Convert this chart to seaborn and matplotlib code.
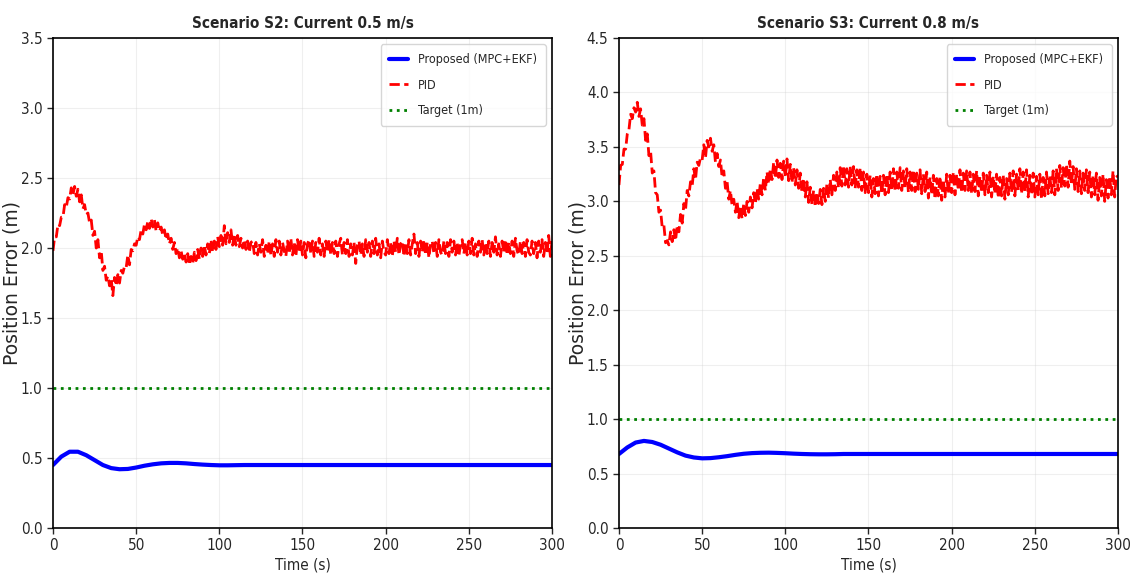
import numpy as np
import matplotlib
matplotlib.use("Agg")
import matplotlib.pyplot as plt
import seaborn as sns

# Time axis (s)
time_fine = np.arange(0, 301, 1)
time_coarse = np.arange(0, 301, 5)

# Scenario S2: current 0.5 m/s
s2_proposed = [0.45, 0.51, 0.545, 0.545, 0.52, 0.485, 0.45, 0.428, 0.42, 0.422,
               0.432, 0.445, 0.455, 0.462, 0.465, 0.465, 0.462, 0.457, 0.453, 0.45,
               0.448, 0.448, 0.449, 0.45, 0.45, 0.45, 0.45, 0.45, 0.45, 0.45,
               0.45, 0.45, 0.45, 0.45, 0.45, 0.45, 0.45, 0.45, 0.45, 0.45,
               0.45, 0.45, 0.45, 0.45, 0.45, 0.45, 0.45, 0.45, 0.45, 0.45,
               0.45, 0.45, 0.45, 0.45, 0.45, 0.45, 0.45, 0.45, 0.45, 0.45,
               0.45]
s2_pid = [1.98, 2.08, 2.08, 2.17, 2.16, 2.22, 2.22, 2.31, 2.29, 2.36,
          2.35, 2.43, 2.38, 2.44, 2.37, 2.42, 2.33, 2.38, 2.28, 2.31,
          2.24, 2.25, 2.18, 2.20, 2.09, 2.12, 2.00, 2.06, 1.93, 1.98,
          1.84, 1.87, 1.77, 1.80, 1.73, 1.78, 1.66, 1.79, 1.73, 1.81,
          1.75, 1.84, 1.82, 1.87, 1.86, 1.95, 1.88, 1.99, 1.98, 2.03,
          2.02, 2.08, 2.06, 2.13, 2.10, 2.17, 2.13, 2.19, 2.14, 2.21,
          2.15, 2.20, 2.12, 2.18, 2.12, 2.15, 2.09, 2.13, 2.06, 2.10,
          2.03, 2.07, 1.99, 2.04, 1.96, 2.00, 1.93, 1.98, 1.92, 1.96,
          1.90, 1.96, 1.88, 1.94, 1.89, 1.97, 1.91, 1.99, 1.92, 2.00,
          1.94, 2.02, 1.95, 2.03, 1.96, 2.06, 1.97, 2.05, 1.99, 2.08,
          2.01, 2.09, 2.02, 2.16, 2.03, 2.11, 2.04, 2.13, 2.02, 2.10,
          2.02, 2.09, 2.01, 2.07, 2.00, 2.06, 1.99, 2.05, 1.97, 2.04,
          2.05, 1.96, 2.04, 1.95, 2.03, 1.97, 2.06, 1.94, 2.02, 1.96,
          2.05, 1.95, 2.03, 1.94, 2.06, 1.97, 2.05, 1.95, 2.04, 1.98,
          1.94, 2.05, 1.96, 2.07, 1.95, 2.04, 1.94, 2.06, 1.97, 2.05,
          1.95, 2.04, 1.93, 2.03, 2.06, 1.96, 2.05, 1.94, 2.04, 1.97,
          2.07, 1.95, 2.03, 1.94, 2.05, 1.97, 2.06, 1.95, 2.04, 1.96,
          2.05, 1.94, 2.03, 2.07, 1.95, 2.04, 1.96, 2.06, 1.94, 2.03,
          1.95, 2.04, 1.89, 2.02, 2.05, 1.95, 2.03, 1.94, 2.06, 1.97,
          2.04, 1.94, 2.05, 1.96, 2.07, 1.95, 2.03, 1.93, 2.05, 1.97,
          1.95, 2.06, 1.96, 2.04, 1.94, 2.05, 1.97, 2.07, 1.95, 2.03,
          2.05, 1.94, 2.04, 1.96, 2.06, 1.95, 2.03, 2.10, 1.96, 2.04,
          1.94, 2.05, 1.97, 2.06, 1.95, 2.04, 1.93, 2.03, 2.05, 1.96,
          2.04, 1.94, 2.06, 1.97, 1.95, 2.05, 1.96, 2.04, 1.94, 2.06,
          1.97, 2.05, 1.95, 2.04, 1.94, 2.03, 2.06, 1.96, 2.04, 1.95,
          2.05, 1.96, 2.07, 1.95, 2.03, 1.94, 2.05, 1.97, 2.06, 1.95,
          2.04, 1.96, 2.05, 1.94, 2.04, 1.97, 2.08, 1.95, 2.03, 1.94,
          2.05, 1.97, 2.06, 1.95, 2.04, 1.96, 2.05, 1.94, 2.07, 1.98,
          1.95, 2.05, 1.96, 2.04, 1.94, 2.06, 1.97, 1.95, 2.05, 1.96,
          2.04, 1.93, 2.05, 1.97, 2.06, 1.94, 2.04, 1.96, 2.09, 1.94,
          2.05]

# Scenario S3: current 0.8 m/s
s3_proposed = [0.68, 0.74, 0.785, 0.80, 0.79, 0.765, 0.73, 0.695, 0.665, 0.648,
               0.64, 0.642, 0.65, 0.66, 0.672, 0.682, 0.688, 0.691, 0.692, 0.69,
               0.687, 0.683, 0.68, 0.678, 0.677, 0.677, 0.678, 0.68, 0.68, 0.68,
               0.68, 0.68, 0.68, 0.68, 0.68, 0.68, 0.68, 0.68, 0.68, 0.68,
               0.68, 0.68, 0.68, 0.68, 0.68, 0.68, 0.68, 0.68, 0.68, 0.68,
               0.68, 0.68, 0.68, 0.68, 0.68, 0.68, 0.68, 0.68, 0.68, 0.68,
               0.68]
s3_pid = [3.15, 3.33, 3.34, 3.48, 3.48, 3.62, 3.66, 3.80, 3.76, 3.86,
          3.82, 3.91, 3.78, 3.85, 3.70, 3.76, 3.56, 3.62, 3.42, 3.46,
          3.26, 3.28, 3.08, 3.06, 2.90, 2.92, 2.76, 2.78, 2.62, 2.64,
          2.60, 2.72, 2.63, 2.74, 2.64, 2.78, 2.72, 2.88, 2.80, 2.98,
          2.92, 3.10, 3.05, 3.18, 3.14, 3.30, 3.20, 3.36, 3.33, 3.40,
          3.38, 3.52, 3.40, 3.56, 3.50, 3.58, 3.46, 3.52, 3.36, 3.44,
          3.32, 3.38, 3.22, 3.28, 3.12, 3.18, 3.02, 3.10, 2.96, 3.02,
          2.90, 3.00, 2.85, 2.96, 2.84, 2.98, 2.87, 3.00, 2.90, 3.04,
          2.94, 3.08, 2.98, 3.12, 3.02, 3.17, 3.06, 3.22, 3.10, 3.27,
          3.16, 3.30, 3.20, 3.36, 3.21, 3.38, 3.22, 3.35, 3.20, 3.37,
          3.22, 3.39, 3.19, 3.34, 3.17, 3.31, 3.15, 3.29, 3.12, 3.26,
          3.08, 3.21, 3.04, 3.18, 2.99, 3.13, 2.97, 3.10, 2.95, 3.08,
          2.98, 3.11, 2.97, 3.12, 3.00, 3.16, 3.03, 3.20, 3.06, 3.24,
          3.10, 3.27, 3.12, 3.31, 3.14, 3.33, 3.15, 3.30, 3.13, 3.32,
          3.15, 3.32, 3.12, 3.29, 3.13, 3.31, 3.10, 3.27, 3.08, 3.25,
          3.08, 3.24, 3.04, 3.21, 3.07, 3.25, 3.05, 3.23, 3.07, 3.24,
          3.06, 3.25, 3.08, 3.27, 3.10, 3.30, 3.09, 3.27, 3.12, 3.31,
          3.10, 3.28, 3.12, 3.30, 3.08, 3.27, 3.10, 3.29, 3.09, 3.26,
          3.11, 3.29, 3.07, 3.25, 3.09, 3.27, 3.03, 3.22, 3.06, 3.24,
          3.02, 3.21, 3.05, 3.23, 3.01, 3.20, 3.04, 3.25, 3.07, 3.24,
          3.08, 3.27, 3.06, 3.25, 3.10, 3.29, 3.08, 3.26, 3.10, 3.28,
          3.10, 3.27, 3.07, 3.25, 3.09, 3.28, 3.05, 3.23, 3.08, 3.26,
          3.06, 3.24, 3.08, 3.27, 3.04, 3.23, 3.07, 3.25, 3.03, 3.22,
          3.05, 3.24, 3.02, 3.21, 3.06, 3.26, 3.08, 3.28, 3.05, 3.25,
          3.10, 3.30, 3.07, 3.27, 3.09, 3.29, 3.04, 3.24, 3.06, 3.26,
          3.04, 3.23, 3.06, 3.25, 3.02, 3.22, 3.05, 3.27, 3.07, 3.24,
          3.08, 3.28, 3.06, 3.30, 3.10, 3.33, 3.12, 3.31, 3.14, 3.34,
          3.13, 3.37, 3.15, 3.32, 3.11, 3.30, 3.09, 3.28, 3.07, 3.26,
          3.10, 3.29, 3.08, 3.27, 3.04, 3.24, 3.06, 3.26, 3.01, 3.22,
          3.05, 3.25, 3.00, 3.20, 3.03, 3.23, 3.06, 3.28, 3.04, 3.24,
          3.22]

target = 1.0
titles = ["Scenario S2: Current 0.5 m/s", "Scenario S3: Current 0.8 m/s"]
y_limits = [3.5, 4.5]

sns.set_style("white")
plt.rcParams["font.family"] = ["DejaVu Sans"]
plt.rcParams["font.stretch"] = "condensed"

fig = plt.figure(figsize=(11.37, 5.88), dpi=100)
ax1 = fig.add_axes([0.0466, 0.102, 0.4389, 0.8333])
ax2 = fig.add_axes([0.5444, 0.102, 0.4389, 0.8333])

panels = [(ax1, s2_proposed, s2_pid), (ax2, s3_proposed, s3_pid)]
for i, (ax, prop, pid) in enumerate(panels):
    sns.lineplot(x=time_coarse, y=prop, ax=ax, color="blue", linewidth=3,
                 label="Proposed (MPC+EKF)")
    sns.lineplot(x=time_fine, y=pid, ax=ax, color="red", linewidth=2,
                 linestyle="--", label="PID")
    ax.axhline(target, color="green", linestyle=":", linewidth=2,
               label="Target (1m)")
    ax.set_xlim(0, 300)
    ax.set_ylim(0, y_limits[i])
    ax.set_yticks(np.arange(0, y_limits[i] + 0.01, 0.5))
    ax.set_xticks(np.arange(0, 301, 50))
    ax.grid(True, alpha=0.3)
    ax.set_title(titles[i], fontsize=11, fontweight="bold", pad=7)
    ax.set_xlabel("Time (s)", fontsize=11, labelpad=3)
    ax.set_ylabel("Position Error (m)", fontsize=13.5, fontstretch="normal")
    ax.yaxis.set_label_coords(-0.064, 0.5)
    ax.tick_params(axis="both", labelsize=11, length=4, width=1, left=True, bottom=True)
    for spine in ax.spines.values():
        spine.set_color("black")
        spine.set_linewidth(1.2)
    ax.legend(loc="upper right", fontsize=9, labelspacing=1.0,
              handlelength=1.5, borderpad=0.7)

fig.savefig("out.png", dpi=100)
